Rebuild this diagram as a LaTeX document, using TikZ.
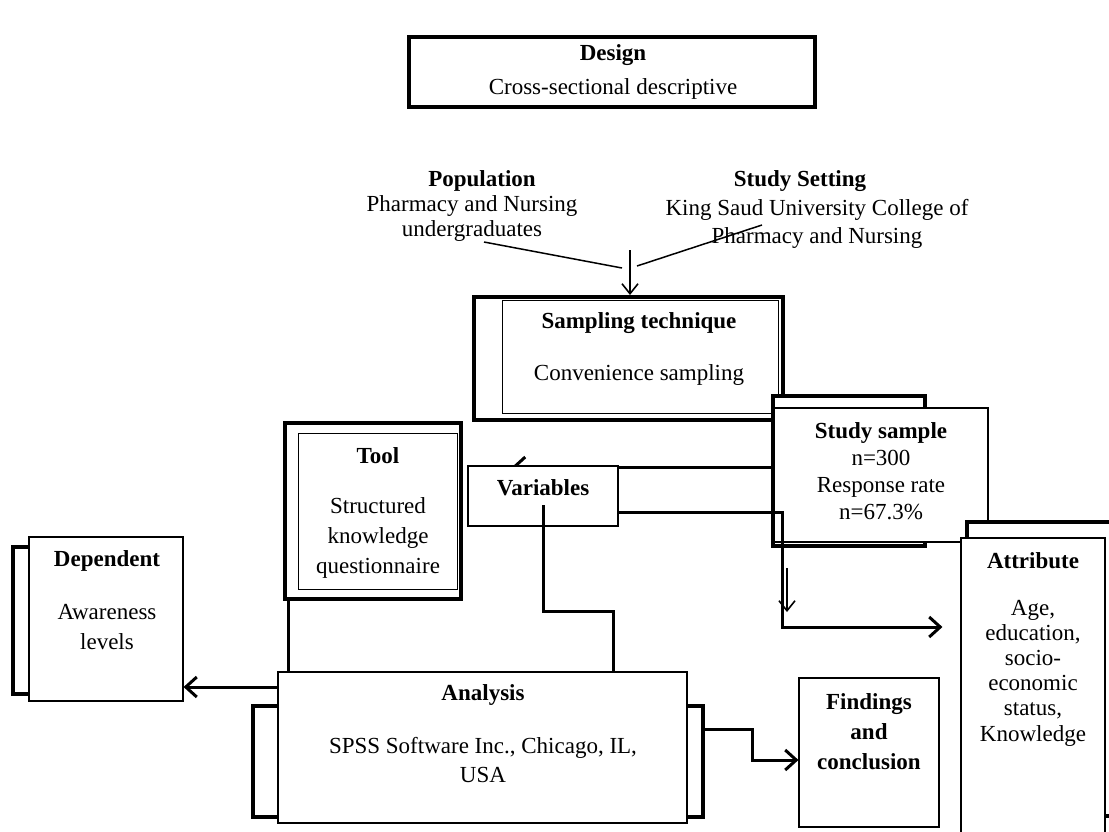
\documentclass[tikz,border=0pt]{standalone}
\usepackage{fontspec}
\setmainfont{Liberation Serif}
\usetikzlibrary{arrows.meta,fit}
\begin{document}
\begin{tikzpicture}[x=1pt,y=-1pt,
  thk/.style={draw, line width=4pt, fill=white, inner sep=0pt},
  thn/.style={draw, line width=1.1pt, fill=white, inner sep=0pt},
  con/.style={line width=3pt},
  tipbig/.style={-{Straight Barb[length=11pt,width=20pt,line width=3pt]}},
  tipsmall/.style={-{Straight Barb[length=10pt,width=16pt,line width=1.6pt]}},
  txt/.style={inner sep=0pt, align=center, font=\fontsize{23}{26}\selectfont},
  ttl/.style={inner sep=0pt, align=center, font=\fontsize{23}{26}\selectfont\bfseries},
]
\useasboundingbox (0,0) rectangle (1109,831);
\clip (0,0) rectangle (1109,831);

% Design
\node[thk, fit={(409,37) (815,107)}] (design) {};
\node[ttl] (designT) at (613,55) {Design};
\node[txt] (designB) at (613,89) {Cross-sectional descriptive};

% Population and setting
\node[ttl] (popT) at (482,181) {Population};
\node[txt, font=\fontsize{23}{25}\selectfont] (popB) at (472,218) {Pharmacy and Nursing\\undergraduates};
\node[ttl] (setT) at (800,181) {Study Setting};
\node[txt, font=\fontsize{23}{28}\selectfont] (setB) at (817,224) {King Saud University College of\\Pharmacy and Nursing};
\coordinate (popend) at (484,242);
\coordinate (m1) at (622,268);
\coordinate (setend) at (762,225);
\coordinate (m2) at (637,266);
\coordinate (m3) at (630,250);

% Sampling technique
\node[thk, fit={(474,297) (783,420)}] (sampo) {};
\node[thn, line width=1pt, fit={(502,300) (778,413)}] (sampi) {};
\node[ttl] (sampT) at (639,323) {Sampling technique};
\node[txt] (sampB) at (639,375) {Convenience sampling};
\draw[line width=1.5pt] (popend) -- (m1);
\draw[line width=1.5pt] (setend) -- (m2);
\draw[line width=1.5pt, tipsmall] (m3) -- (m3 |- sampo.north);

% Tool
\node[thk, fit={(285,423) (461,599)}] (toolo) {};
\node[thn, line width=1pt, fit={(298,433) (457,589)}] (tooli) {};
\node[ttl] (toolT) at (378,456) {Tool};
\node[txt, font=\fontsize{23}{30}\selectfont] (toolB) at (378,538) {Structured\\knowledge\\questionnaire};

% Study sample
\node[thk, fit={(773,396) (925,546)}] (sso) {};
\node[thn, fit={(774,408) (988,542)}] (ssi) {};
\node[txt, font=\fontsize{23}{27}\selectfont] (ssB) at (881,471) {\textbf{Study sample}\\n=300\\Response rate\\n=67.3\%};

% Study sample -> Variables (head hidden under the box)
\draw[con, tipbig] (sso.west |- 0,467) -- (512,467);

% Variables
\node[thn, fit={(468,466) (618,526)}] (var) {};
\node[ttl] (varT) at (543,488) {Variables};

% Attribute
\node[thk, fit={(967,522) (1140,816)}] (atto) {};
\node[thn, fit={(961,538) (1105,870)}] (atti) {};
\node[ttl] (attT) at (1033,561) {Attribute};
\node[txt, font=\fontsize{23}{25.2}\selectfont] (attB) at (1033,673) {Age,\\education,\\socio-\\economic\\status,\\Knowledge};

% Variables -> Attribute
\draw[con, tipbig, shorten >=18pt] (var.east |- 0,512) -- (782,512) -- (782,627) -- (atti.west |- 0,627);
\coordinate (dn1) at (787,568);
\coordinate (dn2) at (787,612);
\draw[line width=1.6pt, tipsmall] (dn1) -- (dn2);

% Dependent
\node[thk, fit={(13,547) (150,694)}] (depo) {};
\node[thn, fit={(29,537) (183,701)}] (depi) {};
\node[ttl] (depT) at (107,561) {Dependent};
\node[txt, font=\fontsize{23}{30}\selectfont] (depB) at (107,627) {Awareness\\levels};

% Analysis
\node[thk, fit={(253,706) (703,817)}] (anao) {};
\node[thn, fit={(278,672) (687,823)}] (anai) {};
\node[ttl] (anaT) at (483,695) {Analysis};
\node[txt, font=\fontsize{23}{29}\selectfont] (anaB) at (483,760) {SPSS Software Inc., Chicago, IL,\\USA};

% Findings
\node[thn, fit={(799,678) (939,827)}] (find) {};
\node[ttl, font=\fontsize{23}{30}\selectfont\bfseries] (findT) at (869,732) {Findings\\and\\conclusion};

% Connectors to analysis
\draw[con] (288,0 |- toolo.south) -- (288,0 |- anai.north);
\draw[con] (var.center |- 0,505) -- (var.center |- 0,611) -- (613,611) -- (613,0 |- anai.north);
\draw[con, tipbig] (anai.west |- 0,687) -- (depi.east |- 0,687);
\draw[con, tipbig] (anao.east |- 0,729) -- (752,729) -- (752,760) -- (find.west |- 0,760);
\end{tikzpicture}
\end{document}
